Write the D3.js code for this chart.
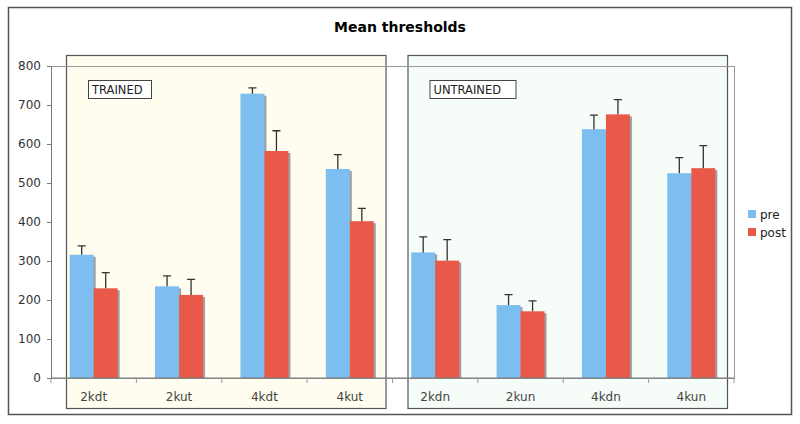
<!DOCTYPE html>
<html>
<head>
<meta charset="utf-8">
<script src="https://d3js.org/d3.v7.min.js"></script>
<style>
  body { margin: 0; background: #fff; }
  text { font-family: "DejaVu Sans", Verdana, sans-serif; }
</style>
</head>
<body>
<div id="chart"></div>
<script>
// data
var categories = ["2kdt", "2kut", "4kdt", "4kut", "2kdn", "2kun", "4kdn", "4kun"];
var preValues = [316, 235, 729, 536, 322, 187, 638, 525];
var preErrors = [23, 27, 15, 37, 40, 27, 36, 40];
var postValues = [230, 213, 582, 402, 301, 171, 676, 538];
var postErrors = [40, 40, 52, 33, 54, 27, 38, 58];
var seriesNames = ["pre", "post"];
var yTicks = [0, 100, 200, 300, 400, 500, 600, 700, 800];

var colors = { pre: "#7dbef0", post: "#e8594a" };

var W = 800, H = 424;
var margin = { top: 66, right: 66, bottom: 46, left: 51 },
  width = W - margin.left - margin.right,
  height = H - margin.top - margin.bottom;

var svg = d3.select("#chart")
  .append("svg")
  .attr("width", W)
  .attr("height", H);

// outer frame
svg.append("rect")
  .attr("x", 8.5).attr("y", 7.5)
  .attr("width", 783).attr("height", 407)
  .attr("fill", "#fff")
  .attr("stroke", "#555")
  .attr("stroke-width", 1.5);

// title
svg.append("text")
  .attr("x", 400)
  .attr("y", 32)
  .attr("text-anchor", "middle")
  .style("font-size", "14px")
  .style("font-weight", "bold")
  .text("Mean thresholds");

var g = svg.append("g")
  .attr("transform", "translate(" + margin.left + "," + margin.top + ")");

var xScale = d3.scaleBand()
  .domain(categories)
  .range([0, width]);

var xSeries = d3.scaleBand()
  .domain(seriesNames)
  .range([0, 48]);

var yScale = d3.scaleLinear()
  .domain([0, 800])
  .range([height, 0]);

// group panels (trained / untrained)
var panels = [
  { label: "TRAINED", cats: categories.slice(0, 4), fill: "#fefdef", labelW: 63 },
  { label: "UNTRAINED", cats: categories.slice(4), fill: "#f6fcf8", labelW: 86 }
];

panels.forEach(function(p) {
  var x0 = xScale(p.cats[0]) + 15;
  var x1 = xScale(p.cats[p.cats.length - 1]) + xScale.bandwidth() - 7;
  g.append("rect")
    .attr("x", x0 + 0.5)
    .attr("y", -10.5)
    .attr("width", x1 - x0)
    .attr("height", 353)
    .attr("fill", p.fill)
    .attr("stroke", "#555")
    .attr("stroke-width", 1.2);
  g.append("rect")
    .attr("x", x0 + 22.5)
    .attr("y", 14.5)
    .attr("width", p.labelW)
    .attr("height", 18)
    .attr("fill", "#fff")
    .attr("stroke", "#444");
  g.append("text")
    .attr("x", x0 + 26)
    .attr("y", 28)
    .style("font-size", "11.5px")
    .style("fill", "#222")
    .text(p.label);
});

// plot area border
g.append("rect")
  .attr("x", 0.5).attr("y", 0.5)
  .attr("width", width).attr("height", height)
  .attr("fill", "none")
  .attr("stroke", "#999");

// bars
var rows = categories.map(function(c, i) {
  return [
    { cat: c, key: "pre", value: preValues[i], err: preErrors[i] },
    { cat: c, key: "post", value: postValues[i], err: postErrors[i] }
  ];
});

var groups = g.selectAll(".cat")
  .data(rows)
  .enter()
  .append("g")
  .attr("transform", function(d) {
    return "translate(" + (xScale(d[0].cat) + (xScale.bandwidth() - 48) / 2) + ",0)";
  });

// shadows
groups.selectAll(".shadow")
  .data(function(d) { return d; })
  .enter()
  .append("rect")
  .attr("x", function(d) { return xSeries(d.key) + 2; })
  .attr("y", function(d) { return yScale(d.value) + 2; })
  .attr("width", xSeries.bandwidth())
  .attr("height", function(d) { return height - yScale(d.value) - 2; })
  .attr("fill", "#a0a0a0");

groups.selectAll(".bar")
  .data(function(d) { return d; })
  .enter()
  .append("rect")
  .attr("x", function(d) { return xSeries(d.key); })
  .attr("y", function(d) { return yScale(d.value); })
  .attr("width", xSeries.bandwidth())
  .attr("height", function(d) { return height - yScale(d.value); })
  .attr("fill", function(d) { return colors[d.key]; });

// error bars (upper only)
groups.selectAll(".err")
  .data(function(d) { return d; })
  .enter()
  .append("path")
  .attr("d", function(d) {
    var cx = xSeries(d.key) + xSeries.bandwidth() / 2;
    var y0 = yScale(d.value), y1 = yScale(d.value + d.err);
    return "M" + cx + "," + y0 + "V" + y1 + "M" + (cx - 4) + "," + y1 + "H" + (cx + 4);
  })
  .attr("fill", "none")
  .attr("stroke", "#333")
  .attr("stroke-width", 1.3);

// axes
var yAxis = g.append("g")
  .call(d3.axisLeft(yScale).tickValues(yTicks).tickSize(4).tickPadding(6));
yAxis.select(".domain").attr("stroke", "#777");
yAxis.selectAll(".tick line").attr("stroke", "#777");
yAxis.selectAll(".tick text")
  .style("font-size", "12px")
  .style("font-family", "'DejaVu Sans', Verdana, sans-serif")
  .attr("fill", "#333");

var xAxisG = g.append("g")
  .attr("transform", "translate(0," + height + ")");
xAxisG.append("line")
  .attr("x1", 0).attr("x2", width)
  .attr("stroke", "#777");
xAxisG.selectAll(".xtick")
  .data(categories.concat(["end"]))
  .enter()
  .append("line")
  .attr("x1", function(d, i) { return i * xScale.step(); })
  .attr("x2", function(d, i) { return i * xScale.step(); })
  .attr("y1", 0).attr("y2", 5)
  .attr("stroke", "#999");
xAxisG.selectAll(".xlabel")
  .data(categories)
  .enter()
  .append("text")
  .attr("x", function(d) { return xScale(d) + xScale.bandwidth() / 2; })
  .attr("y", 23)
  .attr("text-anchor", "middle")
  .style("font-size", "12px")
  .attr("fill", "#444")
  .text(function(d) { return d; });

// legend
var legend = svg.append("g")
  .attr("transform", "translate(748,210)");
seriesNames.forEach(function(s, i) {
  legend.append("rect")
    .attr("x", 0).attr("y", i * 18)
    .attr("width", 8).attr("height", 8)
    .attr("fill", colors[s]);
  legend.append("text")
    .attr("x", 12).attr("y", i * 18 + 8.5)
    .style("font-size", "12px")
    .attr("fill", "#222")
    .text(s);
});
</script>
</body>
</html>
